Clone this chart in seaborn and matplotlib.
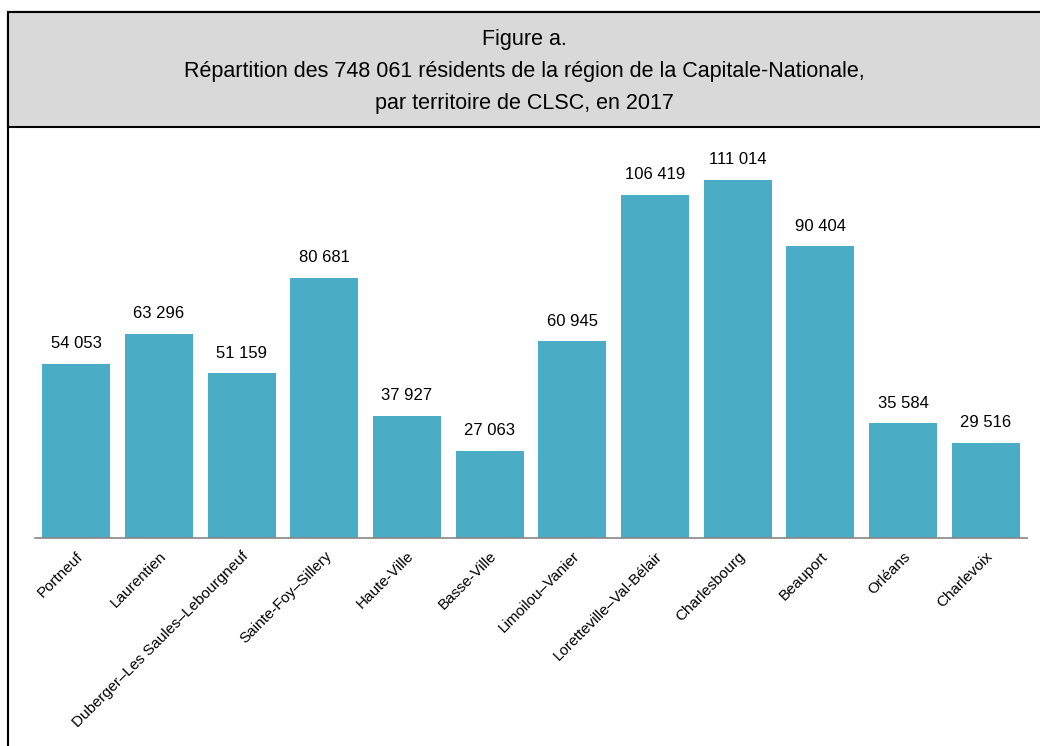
import matplotlib
matplotlib.use("Agg")
import matplotlib.pyplot as plt
from matplotlib.patches import Rectangle
import seaborn as sns

# Data
territoires = [
    "Portneuf", "Laurentien", "Duberger–Les Saules–Lebourgneuf", "Sainte-Foy–Sillery",
    "Haute-Ville", "Basse-Ville", "Limoilou–Vanier", "Loretteville–Val-Bélair",
    "Charlesbourg", "Beauport", "Orléans", "Charlevoix",
]
residents = [54053, 63296, 51159, 80681, 37927, 27063, 60945, 106419, 111014, 90404, 35584, 29516]

title_lines = [
    "Figure a.",
    "Répartition des 748 061 résidents de la région de la Capitale-Nationale,",
    "par territoire de CLSC, en 2017",
]

sns.set_style("white")
plt.rcParams["font.family"] = ["Liberation Sans", "DejaVu Sans"]

W, H = 1040, 746
fig = plt.figure(figsize=(10.4, 7.46), dpi=100)

# frame and grey header
fig.patches.append(Rectangle((8 / W, -0.1), 1.2, 1 - 12 / H + 0.1, transform=fig.transFigure,
                             facecolor="white", edgecolor="black", linewidth=1.5, zorder=0))
fig.patches.append(Rectangle((8 / W, 1 - 127 / H), 1.2, (127 - 12) / H, transform=fig.transFigure,
                             facecolor="#D9D9D9", edgecolor="black", linewidth=1.5, zorder=1))
for line, y in zip(title_lines, [40, 72, 103]):
    fig.text(0.5 + 4 / W, 1 - y / H, line, ha="center", va="center",
             fontsize=15.5, color="black", zorder=2)

ax = fig.add_axes([35 / W, 1 - 538 / H, (1027 - 35) / W, (538 - 151) / H])
ax.set_zorder(3)
ax.patch.set_alpha(0)
sns.barplot(x=territoires, y=residents, color="#4BACC6", saturation=1, width=0.82,
            linewidth=0, ax=ax)

ax.set_ylim(0, 120000)
ax.set_xlim(-0.5, len(territoires) - 0.5)
for sp in ["top", "right", "left"]:
    ax.spines[sp].set_visible(False)
ax.spines["bottom"].set_color("#868686")
ax.spines["bottom"].set_linewidth(1.2)
ax.set_yticks([])
ax.set_ylabel("")

# boundary ticks, labels at centres
n = len(territoires)
ax.set_xticks([i - 0.5 for i in range(n + 1)], [""] * (n + 1))
ax.tick_params(axis="x", which="major", length=5, color="#868686", width=1.2, direction="out")
ax.set_xticks(range(n), territoires, minor=True)
ax.tick_params(axis="x", which="minor", length=0, pad=8, labelsize=11, labelcolor="black")
for lab in ax.get_xticklabels(minor=True):
    lab.set_rotation(45)
    lab.set_ha("right")
    lab.set_rotation_mode("anchor")

for i, v in enumerate(residents):
    ax.annotate(f"{v:,}".replace(",", " "), (i, v), xytext=(0, 9), textcoords="offset points",
                ha="center", va="bottom", fontsize=12, color="black")

fig.savefig("out.png", dpi=100)
